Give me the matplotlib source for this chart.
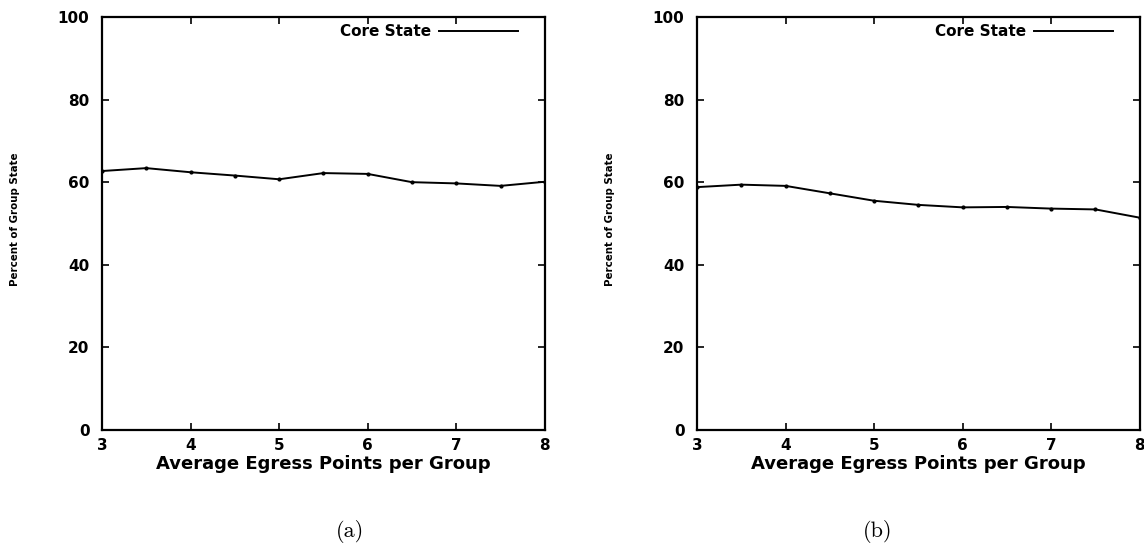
import matplotlib
matplotlib.use("Agg")
import matplotlib.pyplot as plt

# average egress points per group
egress = [3, 3.5, 4, 4.5, 5, 5.5, 6, 6.5, 7, 7.5, 8]

# percent of group state that is core state
core_a = [62.7, 63.4, 62.4, 61.6, 60.7, 62.2, 62.0, 60.0, 59.7, 59.1, 60.1]
core_b = [58.8, 59.4, 59.1, 57.3, 55.5, 54.5, 53.9, 54.0, 53.6, 53.4, 51.4]

xticks = [3, 4, 5, 6, 7, 8]
yticks = [0, 20, 40, 60, 80, 100]

fig = plt.figure(figsize=(11.44, 5.49), dpi=100)

panels = [
    (0.0892, core_a, "(a)", 0.306),
    (0.6093, core_b, "(b)", 0.767),
]

for left, core, tag, tag_x in panels:
    ax = fig.add_axes([left, 0.2168, 0.387, 0.7523])
    ax.plot(egress, core, color="black", lw=1.4, marker="o", ms=2,
            label="Core State")
    ax.set_xlim(3, 8)
    ax.set_ylim(0, 100)
    ax.set_xticks(xticks)
    ax.set_yticks(yticks)
    ax.tick_params(direction="in", length=5, width=1.2, top=True, right=True,
                   labelsize=11, pad=6)
    ax.tick_params(axis="y", pad=9)
    for lab in ax.get_xticklabels() + ax.get_yticklabels():
        lab.set_fontweight("bold")
    for sp in ax.spines.values():
        sp.set_linewidth(1.6)
    ax.set_xlabel("Average Egress Points per Group", fontsize=13,
                  fontweight="bold", labelpad=1)
    ax.set_ylabel("Percent of Group State", fontsize=8.2, fontweight="bold",
                  fontstretch="condensed")
    ax.yaxis.set_label_coords(-0.185, 0.51)
    leg = ax.legend(loc="upper right", bbox_to_anchor=(0.94, 0.983),
                    frameon=False, markerfirst=False, handlelength=5.2,
                    handletextpad=0.5, borderpad=0, borderaxespad=0,
                    prop={"weight": "bold", "size": 11})
    for h in leg.legend_handles:
        h.set_marker("")
    fig.text(tag_x, 0.031, tag, family="cmr10", fontsize=16,
             ha="center", va="center")

fig.savefig("out.png", dpi=100)
